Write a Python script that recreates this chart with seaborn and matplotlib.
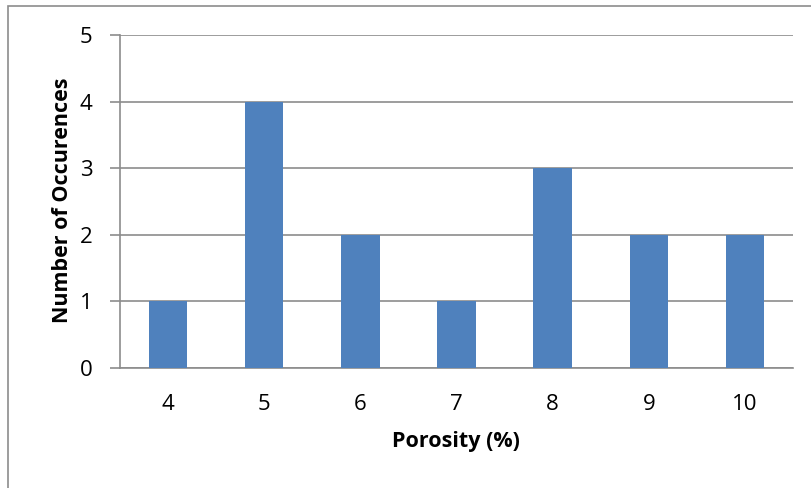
import matplotlib
matplotlib.use("Agg")
import matplotlib.pyplot as plt
import seaborn as sns
import pandas as pd
from matplotlib.patches import Rectangle

porosity = ["4", "5", "6", "7", "8", "9", "10"]
occurrences = [1, 4, 2, 1, 3, 2, 2]
yticks = [0, 1, 2, 3, 4, 5]

sns.set_theme(style="white")
plt.rcParams['font.family'] = ['Open Sans', 'DejaVu Sans']

df = pd.DataFrame({"Porosity": porosity, "Count": occurrences})

W, H = 811, 488
fig = plt.figure(figsize=(W / 100, H / 100), dpi=100)
ax = fig.add_axes([120 / W, 1 - 368 / H, (793 - 120) / W, (368 - 35) / H])

sns.barplot(data=df, x="Porosity", y="Count", order=porosity, color="#4F81BD",
            saturation=1, width=0.4, linewidth=0, ax=ax, zorder=3)

ax.set_ylim(0, 5)
ax.set_xlim(-0.5, len(porosity) - 0.5)
ax.set_yticks(yticks)
ax.yaxis.grid(True, color="#8C8C8C", linewidth=1.2, zorder=0)
ax.xaxis.grid(False)
for s in ["top", "right"]:
    ax.spines[s].set_visible(False)
for s in ["left", "bottom"]:
    ax.spines[s].set_color("#8C8C8C")
    ax.spines[s].set_linewidth(1.2)
ax.tick_params(axis="y", which="both", left=True, length=7, width=1.2, color="#8C8C8C",
               labelsize=16, pad=13, labelcolor="black")
ax.tick_params(axis="x", bottom=False, labelsize=16, pad=13, labelcolor="black")
ax.set_axisbelow(True)

ax.set_xlabel("Porosity (%)", fontsize=15.5, fontweight="bold", color="black", va="center")
ax.set_ylabel("Number of Occurences", fontsize=15.5, fontweight="bold", color="black", va="center")
ax.xaxis.set_label_coords((456 - 120) / 673, (368 - 441) / 333)
ax.yaxis.set_label_coords((62 - 120) / 673, (368 - 200) / 333)

fig.patches.append(Rectangle((8 / W, -0.1), 1.2, 1 - 6 / H + 0.1, transform=fig.transFigure,
                             fill=False, edgecolor="#8C8C8C", linewidth=1.2))

fig.savefig("out.png", dpi=100)
